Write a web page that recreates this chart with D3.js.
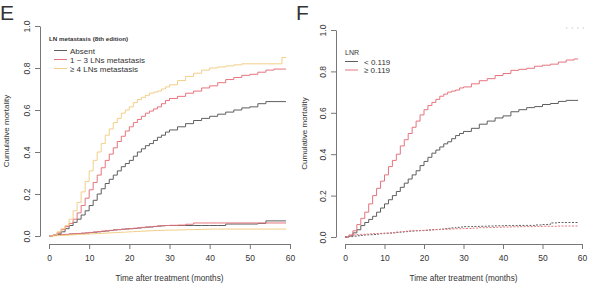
<!DOCTYPE html>
<html>
<head>
<meta charset="utf-8">
<script src="https://cdn.jsdelivr.net/npm/d3@7"></script>
<style>
  body { margin: 0; background: #fff; }
  svg text { font-family: "Liberation Sans", Arial, sans-serif; fill: #333; }
</style>
</head>
<body>
<div id="chart"></div>
<script>
// months at which the step curves change
const months = [0,1,2,3,4,5,6,7,8,9,10,11,12,13,14,15,16,17,18,19,20,21,22,23,24,25,26,27,28,29,30,
                32,34,36,38,40,42,44,46,48,50,52,54,56,58,59];

// panel E - LN metastasis (8th edition)
const absentE = [0,0.005,0.01,0.02,0.035,0.05,0.065,0.08,0.10,0.12,0.145,
  0.17,0.20,0.225,0.25,0.27,0.29,0.31,0.33,0.345,0.36,
  0.38,0.40,0.415,0.43,0.44,0.455,0.47,0.48,0.495,0.505,
  0.52,0.535,0.55,0.56,0.57,0.58,0.59,0.60,0.61,0.615,0.63,0.64,0.64,0.64,0.64];
const ln13E = [0,0.005,0.015,0.03,0.045,0.06,0.08,0.11,0.145,0.18,0.22,
  0.255,0.29,0.325,0.36,0.39,0.42,0.45,0.475,0.50,0.52,
  0.54,0.555,0.57,0.585,0.595,0.605,0.615,0.63,0.645,0.655,
  0.665,0.68,0.69,0.705,0.715,0.73,0.745,0.755,0.765,0.77,0.78,0.79,0.795,0.795,0.795];
const ln4E = [0,0.005,0.02,0.035,0.05,0.08,0.12,0.16,0.21,0.26,0.31,
  0.36,0.40,0.44,0.48,0.51,0.54,0.56,0.585,0.60,0.615,
  0.635,0.65,0.66,0.67,0.68,0.685,0.69,0.70,0.71,0.72,
  0.74,0.76,0.775,0.79,0.80,0.805,0.81,0.815,0.82,0.82,0.82,0.82,0.82,0.85,0.85];
// other-cause mortality (lower curves)
const absentOtherE = [0,0.003,0.005,0.006,0.007,0.009,0.01,0.011,0.013,0.014,0.016,
  0.018,0.02,0.022,0.024,0.026,0.029,0.03,0.032,0.034,0.035,
  0.036,0.038,0.04,0.042,0.043,0.045,0.047,0.049,0.05,0.05,
  0.05,0.05,0.05,0.05,0.05,0.05,0.057,0.057,0.057,0.057,0.06,0.072,0.072,0.072,0.072];
const ln13OtherE = [0,0.003,0.005,0.007,0.008,0.01,0.011,0.012,0.013,0.015,0.017,
  0.019,0.021,0.023,0.025,0.027,0.029,0.031,0.032,0.033,0.035,
  0.037,0.039,0.041,0.043,0.044,0.046,0.048,0.049,0.05,0.051,
  0.052,0.056,0.062,0.062,0.062,0.062,0.062,0.062,0.062,0.062,0.062,0.062,0.062,0.062,0.062];
const ln4OtherE = [0,0.001,0.002,0.003,0.004,0.005,0.006,0.007,0.008,0.009,0.01,
  0.011,0.012,0.013,0.014,0.015,0.016,0.017,0.018,0.019,0.02,
  0.021,0.022,0.023,0.024,0.025,0.026,0.026,0.027,0.028,0.028,
  0.029,0.03,0.031,0.032,0.033,0.033,0.033,0.033,0.033,0.033,0.033,0.033,0.033,0.033,0.033];

// panel F - LNR
const lowF = [0,0.005,0.02,0.035,0.055,0.07,0.085,0.10,0.12,0.14,0.16,
  0.18,0.20,0.22,0.24,0.26,0.28,0.30,0.32,0.345,0.365,
  0.385,0.405,0.42,0.435,0.45,0.46,0.475,0.49,0.50,0.51,
  0.525,0.545,0.56,0.575,0.585,0.605,0.615,0.625,0.63,0.64,0.645,0.655,0.66,0.66,0.66];
const highF = [0,0.01,0.03,0.06,0.09,0.12,0.16,0.20,0.235,0.27,0.30,
  0.34,0.37,0.40,0.44,0.47,0.50,0.53,0.56,0.59,0.615,
  0.635,0.65,0.665,0.68,0.69,0.70,0.705,0.71,0.72,0.725,
  0.74,0.755,0.765,0.78,0.79,0.805,0.81,0.815,0.825,0.83,0.835,0.845,0.855,0.86,0.86];
const lowOtherF = [0,0.002,0.004,0.006,0.008,0.01,0.011,0.012,0.014,0.016,0.018,
  0.019,0.02,0.022,0.024,0.026,0.028,0.029,0.03,0.031,0.032,
  0.034,0.035,0.036,0.038,0.04,0.042,0.044,0.047,0.048,0.05,
  0.051,0.052,0.053,0.054,0.055,0.055,0.056,0.056,0.058,0.06,0.068,0.07,0.07,0.07,0.07];
const highOtherF = [0,0.005,0.01,0.012,0.013,0.014,0.015,0.016,0.017,0.018,0.019,
  0.02,0.022,0.024,0.026,0.028,0.029,0.03,0.031,0.032,0.033,
  0.034,0.035,0.036,0.037,0.038,0.038,0.039,0.04,0.04,0.041,
  0.043,0.045,0.046,0.047,0.048,0.049,0.05,0.05,0.051,0.052,0.052,0.053,0.053,0.053,0.053];

const xTicks = [0,10,20,30,40,50,60];
const yTicks = [0,0.2,0.4,0.6,0.8,1.0];

const grey = "#5e5e5e", red = "#e6747e", yellow = "#f2cf88";

const svg = d3.select("#chart").append("svg")
    .attr("width", 591)
    .attr("height", 288);

function drawPanel(p) {
    const x = d3.scaleLinear().domain([0, 60]).range([p.x0, p.x1]);
    const y = d3.scaleLinear().domain([0, 1]).range([p.y0, p.y1]);
    const g = svg.append("g");

    // x axis (R style, detached)
    const xa = g.append("g")
        .attr("transform", `translate(0,${p.xAxisY})`)
        .call(d3.axisBottom(x).tickValues(xTicks).tickSize(5).tickSizeOuter(0).tickPadding(6));
    xa.select(".domain").attr("stroke", "#777");
    xa.selectAll(".tick line").attr("stroke", "#777");
    xa.selectAll("text").attr("font-size", 8.5).attr("fill", "#333");

    const ya = g.append("g")
        .attr("transform", `translate(${p.yAxisX},0)`)
        .call(d3.axisLeft(y).tickValues(yTicks).tickFormat(d3.format(".1f")).tickSize(5).tickSizeOuter(0));
    ya.select(".domain").attr("stroke", "#777");
    ya.selectAll(".tick line").attr("stroke", "#777");
    ya.selectAll("text")
        .attr("x", null).attr("dy", null)
        .attr("transform", "translate(-10.5,0) rotate(-90)")
        .attr("text-anchor", "middle")
        .attr("font-size", 8.5).attr("fill", "#333");

    g.append("text")
        .attr("transform", `translate(${p.yLabelX},${(p.y0 + p.y1) / 2}) rotate(-90)`)
        .attr("text-anchor", "middle")
        .attr("font-size", 8)
        .text("Cumulative mortality");

    g.append("text")
        .attr("x", (p.x0 + p.x1) / 2)
        .attr("y", 281)
        .attr("text-anchor", "middle")
        .attr("font-size", 8.2)
        .text("Time after treatment (months)");

    g.append("text")
        .attr("x", p.letterX)
        .attr("y", 19.5)
        .attr("font-size", 21)
        .attr("fill", "#111")
        .text(p.letter);

    const line = d3.line()
        .x((d, i) => x(months[i]))
        .y(d => y(d))
        .curve(d3.curveStepAfter);

    p.series.forEach(s => {
        g.append("path")
            .datum(s.values)
            .attr("d", line)
            .attr("fill", "none")
            .attr("stroke", s.color)
            .attr("stroke-width", 1)
            .attr("stroke-dasharray", s.dash || null);
    });

    // legend
    g.append("text")
        .attr("x", p.legX)
        .attr("y", p.legTitleY)
        .attr("font-size", p.legTitleSize)
        .attr("font-weight", p.legTitleBold ? "bold" : "normal")
        .text(p.legTitle);
    p.legend.forEach((l, i) => {
        const ly = p.legY + i * p.legStep;
        g.append("line")
            .attr("x1", p.legLineX).attr("x2", p.legLineX + 13)
            .attr("y1", ly).attr("y2", ly)
            .attr("stroke", l.color).attr("stroke-width", 1);
        g.append("text")
            .attr("x", p.legTextX)
            .attr("y", ly + 3)
            .attr("font-size", 8)
            .text(l.label);
    });
}

drawPanel({
    letter: "E", letterX: 0,
    x0: 49, x1: 290, y0: 236, y1: 26, xAxisY: 244, yAxisX: 40, yLabelX: 9,
    series: [
        { values: absentOtherE, color: grey },
        { values: ln13OtherE, color: red },
        { values: ln4OtherE, color: yellow },
        { values: absentE, color: grey },
        { values: ln13E, color: red },
        { values: ln4E, color: yellow }
    ],
    legTitle: "LN metastasis (8th edition)", legTitleSize: 6.2, legTitleBold: true,
    legX: 49, legTitleY: 41, legLineX: 54, legTextX: 70, legY: 50.5, legStep: 9,
    legend: [
        { label: "Absent", color: grey },
        { label: "1 ~ 3 LNs metastasis", color: red },
        { label: "\u2265 4 LNs metastasis", color: yellow }
    ]
});

drawPanel({
    letter: "F", letterX: 296,
    x0: 345, x1: 582, y0: 237, y1: 30, xAxisY: 244, yAxisX: 336, yLabelX: 307,
    series: [
        { values: lowOtherF, color: grey, dash: "2,1.5" },
        { values: highOtherF, color: red, dash: "2,1.5" },
        { values: lowF, color: grey },
        { values: highF, color: red }
    ],
    legTitle: "LNR", legTitleSize: 7, legTitleBold: false,
    legX: 345, legTitleY: 54.5, legLineX: 345, legTextX: 364, legY: 61.5, legStep: 8.5,
    legend: [
        { label: "< 0.119", color: grey },
        { label: "\u2265 0.119", color: red }
    ]
});

// faint mark in the top right corner of panel F
svg.append("line")
    .attr("x1", 566).attr("x2", 585)
    .attr("y1", 28).attr("y2", 28)
    .attr("stroke", "#c8c8c8")
    .attr("stroke-dasharray", "1.5,4");
</script>
</body>
</html>
